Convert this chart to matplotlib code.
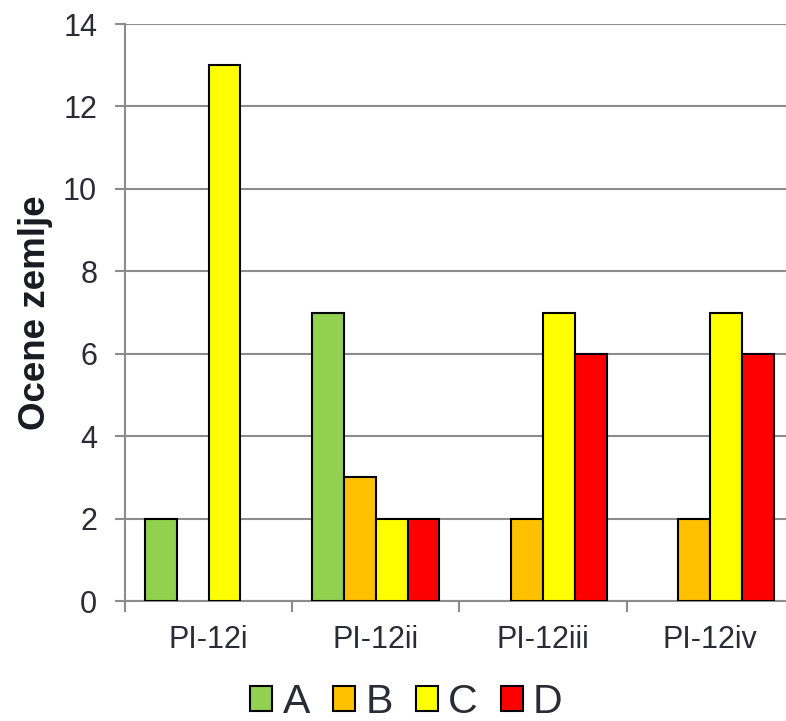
import matplotlib
matplotlib.use("Agg")
import matplotlib.pyplot as plt
import numpy as np

categories = ["PI-12i", "PI-12ii", "PI-12iii", "PI-12iv"]
series_names = ["A", "B", "C", "D"]
values_A = [2, 7, 0, 0]
values_B = [0, 3, 2, 2]
values_C = [13, 2, 7, 7]
values_D = [0, 2, 6, 6]
colors = ["#92D050", "#FFC000", "#FFFF00", "#FF0000"]
y_label = "Ocene zemlje"

plt.rcParams['font.family'] = ['Liberation Sans', 'DejaVu Sans']

fig = plt.figure(figsize=(7.86, 7.21), dpi=100)
ax = fig.add_axes([0.159, 0.1664, 0.851, 0.8003])

x = np.arange(len(categories))
w = 0.19
all_vals = [values_A, values_B, values_C, values_D]
for i, (vals, c, name) in enumerate(zip(all_vals, colors, series_names)):
    v = np.array(vals, dtype=float)
    v[v == 0] = np.nan  # no visible mark for zero values
    ax.bar(x + (i - 1.5) * w, v, width=w, color=c, edgecolor="black",
           linewidth=1.5, label=name, zorder=3)

ax.set_xlim(-0.5, 3.5)
ax.set_ylim(0, 14)
ax.set_yticks(np.arange(0, 15, 2))
ax.yaxis.grid(True, color="#8c8c8c", linewidth=1.5, zorder=0)
ax.set_xticks(x)
ax.set_xticklabels(categories)
ax.set_xticks(np.arange(-0.5, 3.6, 1), minor=True)
ax.tick_params(axis="x", which="major", length=0, pad=17, labelsize=22, labelcolor="#2b2b35")
ax.tick_params(axis="x", which="minor", length=8, width=1.5, color="#8c8c8c", direction="out")
ax.tick_params(axis="y", length=7, width=1.5, color="#8c8c8c", labelsize=22, labelcolor="#2b2b35", pad=13)
for s in ["top", "right"]:
    ax.spines[s].set_visible(False)
for s in ["left", "bottom"]:
    ax.spines[s].set_color("#8c8c8c")
    ax.spines[s].set_linewidth(1.5)
ax.set_ylabel(y_label, fontsize=26.5, fontweight="bold", labelpad=7, color="#1a1a22")

leg = fig.legend(loc="center", bbox_to_anchor=(0.517, 0.027), ncol=4, frameon=False,
                 fontsize=29.5, handlelength=0.54, handleheight=0.56, handletextpad=0.25,
                 columnspacing=0.56, labelcolor="#2b2b35", borderpad=0)
for h in leg.legend_handles:
    h.set_linewidth(1.5)

fig.savefig("out.png", dpi=100)
